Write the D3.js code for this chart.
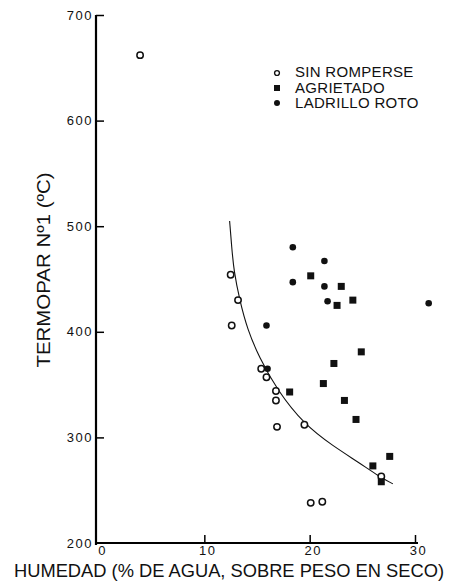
<!DOCTYPE html>
<html>
<head>
<meta charset="utf-8">
<script src="https://cdn.jsdelivr.net/npm/d3@7"></script>
<style>
  body { margin: 0; background: #fff; }
  text { font-family: "Liberation Sans", Arial, sans-serif; fill: #111; }
</style>
</head>
<body>
<div id="chart"></div>
<script>
// humedad (%), temperatura termopar 1 (ºC)
var sinRomperse = [[3.9, 662], [12.5, 454], [13.2, 430], [12.6, 406], [15.4, 365], [15.9, 357],
    [16.8, 344], [16.8, 335], [16.9, 310], [19.5, 312], [20.1, 238], [21.2, 239], [26.8, 263]];
var agrietado = [[20.1, 453], [23.0, 443], [24.1, 430], [22.6, 425], [24.9, 381], [22.3, 370],
    [21.3, 351], [18.1, 343], [23.3, 335], [24.4, 317], [27.6, 282], [26.0, 273], [26.8, 258]];
var ladrilloRoto = [[18.4, 480], [21.4, 467], [18.4, 447], [21.4, 443], [21.7, 429], [31.3, 427],
    [15.9, 406], [16.0, 365]];
var curva = [[12.4, 505], [12.6, 480], [12.8, 458], [13.35, 430], [14.1, 402], [15.2, 376],
    [16.9, 345], [19.5, 312], [22.2, 292], [24.7, 276], [26.6, 263], [27.9, 256]];
var xTicks = [0, 10, 20, 30];
var yTicks = [200, 300, 400, 500, 600, 700];
var leyenda = ["SIN ROMPERSE", "AGRIETADO", "LADRILLO ROTO"];

var svg = d3.select("#chart").append("svg")
    .attr("width", 451)
    .attr("height", 583);

var x = d3.scaleLinear().domain([0, 30]).range([99, 415]),
    y = d3.scaleLinear().domain([200, 700]).range([543, 15]);

// ejes
var xAxis = svg.append("g")
    .attr("transform", "translate(0," + y(200) + ")")
    .call(d3.axisBottom(x).tickValues(xTicks).tickSize(-8).tickSizeOuter(0).tickPadding(3));
xAxis.select(".domain").attr("stroke-width", 2).attr("d", "M" + (x(0) - 3) + ",0H" + (x(30) + 3));
xAxis.selectAll(".tick line").attr("stroke-width", 1.5);
xAxis.selectAll(".tick text")
    .attr("font-size", 13).attr("letter-spacing", 1.5)
    .attr("dx", 3);
xAxis.selectAll(".tick").filter(function (d) { return d === 0; }).select("line").remove();

var yAxis = svg.append("g")
    .attr("transform", "translate(" + (x(0) - 3) + ",0)")
    .call(d3.axisLeft(y).tickValues(yTicks).tickSize(-8).tickSizeOuter(0).tickPadding(3));
yAxis.select(".domain").attr("stroke-width", 2.2).attr("d", "M0," + y(700) + "V" + (y(200) + 2));
yAxis.selectAll(".tick line").attr("stroke-width", 1.5);
yAxis.selectAll(".tick text").attr("font-size", 13).attr("letter-spacing", 1.5);
yAxis.selectAll(".tick").filter(function (d) { return d === 200; }).select("line").remove();

// titulos
svg.append("text")
    .attr("x", 14).attr("y", 577)
    .attr("font-size", 18)
    .attr("textLength", 430).attr("lengthAdjust", "spacingAndGlyphs")
    .text("HUMEDAD (% DE AGUA, SOBRE PESO EN SECO)");

svg.append("text")
    .attr("transform", "translate(50,270) rotate(-90)")
    .attr("text-anchor", "middle")
    .attr("font-size", 19)
    .attr("textLength", 195).attr("lengthAdjust", "spacingAndGlyphs")
    .text("TERMOPAR Nº1 (ºC)");

// curva ajustada
var line = d3.line()
    .curve(d3.curveBasis)
    .x(function (d) { return x(d[0]); })
    .y(function (d) { return y(d[1]); });

svg.append("path")
    .datum(curva)
    .attr("fill", "none")
    .attr("stroke", "#111")
    .attr("stroke-width", 1.1)
    .attr("d", line);

// puntos
svg.append("g").selectAll("circle")
    .data(sinRomperse)
    .enter().append("circle")
    .attr("cx", function (d) { return x(d[0]); })
    .attr("cy", function (d) { return y(d[1]); })
    .attr("r", 3.2)
    .attr("fill", "#fff")
    .attr("stroke", "#111")
    .attr("stroke-width", 1.5);

svg.append("g").selectAll("rect")
    .data(agrietado)
    .enter().append("rect")
    .attr("x", function (d) { return x(d[0]) - 3.5; })
    .attr("y", function (d) { return y(d[1]) - 3.5; })
    .attr("width", 7)
    .attr("height", 7)
    .attr("fill", "#111");

svg.append("g").selectAll("circle")
    .data(ladrilloRoto)
    .enter().append("circle")
    .attr("cx", function (d) { return x(d[0]); })
    .attr("cy", function (d) { return y(d[1]); })
    .attr("r", 3.3)
    .attr("fill", "#111");

// leyenda
var leg = svg.append("g").attr("transform", "translate(277,73)");
leg.append("circle").attr("cx", 0).attr("cy", 0).attr("r", 2.4)
    .attr("fill", "#fff").attr("stroke", "#111").attr("stroke-width", 1.4);
leg.append("rect").attr("x", -3).attr("y", 12).attr("width", 6).attr("height", 6).attr("fill", "#111");
leg.append("circle").attr("cx", 0).attr("cy", 30).attr("r", 3).attr("fill", "#111");
leg.selectAll("text")
    .data(leyenda)
    .enter().append("text")
    .attr("x", 18)
    .attr("y", function (d, i) { return 4 + i * 15.5; })
    .attr("font-size", 15)
    .attr("letter-spacing", 0.3)
    .text(function (d) { return d; });
</script>
</body>
</html>
